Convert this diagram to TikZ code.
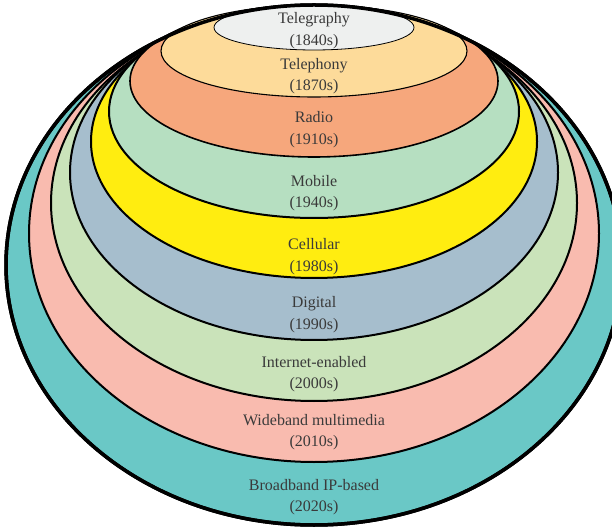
\documentclass[tikz,border=0pt]{standalone}
\usepackage{fontspec}
\setmainfont{Liberation Serif}
\definecolor{cBroad}{HTML}{6AC8C6}
\definecolor{cWide}{HTML}{F9BBAF}
\definecolor{cNet}{HTML}{CAE3BA}
\definecolor{cDig}{HTML}{A6BECD}
\definecolor{cCell}{HTML}{FFED10}
\definecolor{cMob}{HTML}{B6DFC1}
\definecolor{cRadio}{HTML}{F6A77C}
\definecolor{cTelph}{HTML}{FDDB9A}
\definecolor{cTelgr}{HTML}{EEF0EF}
\definecolor{txtgray}{HTML}{3A3A3A}
\begin{document}
\begin{tikzpicture}[x=1pt,y=1pt,
  lab/.style={align=center, font=\fontsize{16}{21.5}\selectfont, text=txtgray, inner sep=0pt},
  ring/.style={draw=black, line width=2pt}]
\useasboundingbox (0,0) rectangle (612,530);
\clip (0,0) rectangle (612,530);
\filldraw[ring, fill=cBroad, line width=3.5pt] (314,265) ellipse [x radius=308, y radius=260];
\filldraw[ring, fill=cWide] (314,296.5) ellipse [x radius=285, y radius=228.5];
\filldraw[ring, fill=cNet] (314,327) ellipse [x radius=263, y radius=198];
\filldraw[ring, fill=cDig] (314,357.5) ellipse [x radius=244, y radius=167.5];
\filldraw[ring, fill=cCell] (314,388.5) ellipse [x radius=223, y radius=136.5];
\filldraw[ring, fill=cMob] (314,418.5) ellipse [x radius=205, y radius=106.5];
\filldraw[ring, fill=cRadio, line width=1.6pt] (314,449) ellipse [x radius=184, y radius=76];
\filldraw[ring, fill=cTelph, line width=1.1pt] (314,479) ellipse [x radius=153, y radius=46];
\filldraw[ring, fill=cTelgr, line width=0.8pt] (314,502.5) ellipse [x radius=100, y radius=22.5];
\draw[line width=3.5pt] (314,265) ellipse [x radius=308, y radius=260];
\node[lab] (telgr) at (314,499.5) {Telegraphy\\(1840s)};
\node[lab] (telph) at (314,454) {Telephony\\(1870s)};
\node[lab] (radio) at (314,400.5) {Radio\\(1910s)};
\node[lab] (mob) at (314,337) {Mobile\\(1940s)};
\node[lab] (cell) at (314,273.5) {Cellular\\(1980s)};
\node[lab] (dig) at (314,215.5) {Digital\\(1990s)};
\node[lab] (net) at (314,156) {Internet-enabled\\(2000s)};
\node[lab] (wide) at (314,98) {Wideband multimedia\\(2010s)};
\node[lab] (broad) at (314,33) {Broadband IP-based\\(2020s)};
\end{tikzpicture}
\end{document}
